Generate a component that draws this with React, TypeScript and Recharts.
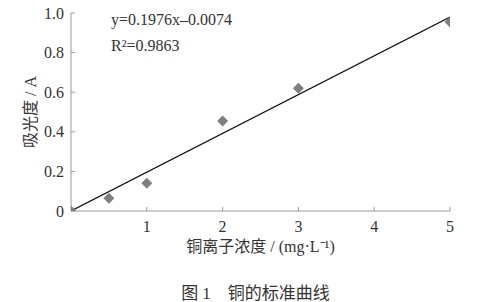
import {
  ComposedChart,
  Line,
  Scatter,
  XAxis,
  YAxis,
} from "recharts";

const concentration = [0, 0.5, 1, 2, 3, 5];
const absorbance = [0, 0.065, 0.14, 0.455, 0.62, 0.955];
const fitX = [0, 5];
const fitY = [0, 0.98];
const xTicks = [1, 2, 3, 4, 5];
const yTicks = [0, 0.2, 0.4, 0.6, 0.8, 1.0];
const equationText = "y=0.1976x\u20130.0074";
const r2Text = "R\u00b2=0.9863";
const xLabel = "铜离子浓度 / (mg·L\u207b\u00b9)";
const yLabel = "吸光度 / A";
const caption = "图 1　铜的标准曲线";

const points = concentration.map((x, i) => ({ x, y: absorbance[i] }));
const fitLine = fitX.map((x, i) => ({ x, fit: fitY[i] }));

const serif = "'Liberation Serif', 'Noto Sans CJK SC', serif";
const axisColor = "#9a9a9a";
const textColor = "#333";

const Diamond = (props: any) => {
  const { cx, cy } = props;
  const r = 5.5;
  return (
    <path
      d={`M${cx},${cy - r}L${cx + r},${cy}L${cx},${cy + r}L${cx - r},${cy}Z`}
      fill="#7f7f7f"
    />
  );
};

const yFmt = (v: number) => (v === 0 ? "0" : v.toFixed(1));

export default function App() {
  return (
    <div style={{ position: "absolute", left: 0, top: 0, width: 479, height: 302, background: "#fff" }}>
      <ComposedChart
        width={479}
        height={302}
        margin={{ top: 13, right: 29, bottom: 61, left: 21 }}
      >
        <XAxis
          type="number"
          dataKey="x"
          domain={[0, 5]}
          ticks={xTicks}
          allowDataOverflow
          stroke={axisColor}
          tickSize={-4}
          tickMargin={14}
          tick={{ fill: textColor, fontSize: 16, fontFamily: serif }}
          label={{
            value: xLabel,
            position: "bottom",
            offset: 0,
            style: { fill: textColor, fontSize: 16, fontFamily: serif },
          }}
        />
        <YAxis
          type="number"
          domain={[0, 1]}
          ticks={yTicks}
          allowDataOverflow
          width={50}
          stroke={axisColor}
          tickSize={-4}
          tickMargin={11}
          tickFormatter={yFmt}
          tick={{ fill: textColor, fontSize: 16, fontFamily: serif }}
          label={{
            value: yLabel,
            angle: -90,
            position: "insideLeft",
            offset: 9,
            style: { fill: textColor, fontSize: 16, fontFamily: serif, textAnchor: "middle" },
          }}
        />
        <Line
          data={fitLine}
          dataKey="fit"
          stroke="#111"
          strokeWidth={1.2}
          dot={false}
          isAnimationActive={false}
        />
        <Scatter
          data={points}
          dataKey="y"
          shape={<Diamond />}
          isAnimationActive={false}
        />
      </ComposedChart>
      <div
        style={{
          position: "absolute",
          left: 111,
          top: 7,
          fontFamily: serif,
          fontSize: 16,
          color: textColor,
          lineHeight: "26px",
        }}
      >
        <div>{equationText}</div>
        <div>{r2Text}</div>
      </div>
      <div
        style={{
          position: "absolute",
          left: 0,
          width: 479,
          top: 279,
          textAlign: "center",
          paddingLeft: 32,
          boxSizing: "border-box",
          fontFamily: serif,
          fontSize: 17,
          color: textColor,
        }}
      >
        {caption}
      </div>
    </div>
  );
}
